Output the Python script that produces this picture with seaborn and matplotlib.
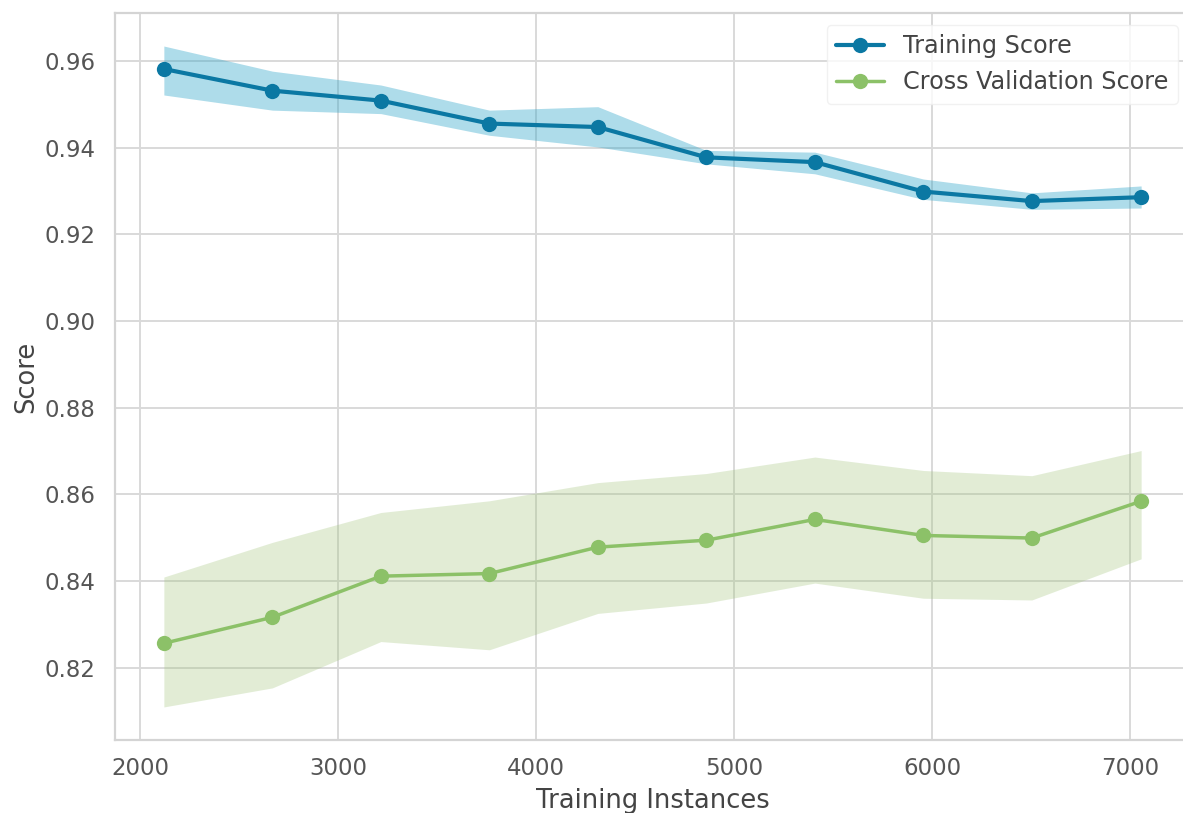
import matplotlib
matplotlib.use("Agg")
import matplotlib.pyplot as plt
import seaborn as sns
import pandas as pd

# learning curve values
train_sizes = [2120, 2668, 3216, 3764, 4312, 4860, 5408, 5956, 6504, 7056]
train_score = [0.9582, 0.9532, 0.9509, 0.9456, 0.9448, 0.9378, 0.9367, 0.9299, 0.9277, 0.9286]
train_hi = [0.9635, 0.9577, 0.9545, 0.9487, 0.9495, 0.9394, 0.9390, 0.9328, 0.9296, 0.9312]
train_lo = [0.9522, 0.9487, 0.9479, 0.9429, 0.9402, 0.9363, 0.9340, 0.9281, 0.9258, 0.9261]

cv_score = [0.8256, 0.8316, 0.8411, 0.8417, 0.8478, 0.8494, 0.8542, 0.8505, 0.8499, 0.8584]
cv_hi = [0.8409, 0.8489, 0.8558, 0.8585, 0.8627, 0.8648, 0.8686, 0.8655, 0.8643, 0.8701]
cv_lo = [0.8109, 0.8153, 0.8260, 0.8241, 0.8325, 0.8349, 0.8395, 0.8360, 0.8356, 0.8451]

df = pd.DataFrame({"size": train_sizes, "train": train_score, "cv": cv_score})

sns.set_style("whitegrid", {"grid.color": "#d9d9d9", "axes.edgecolor": "#d4d4d4"})
plt.rcParams["font.family"] = ["DejaVu Sans"]

fig = plt.figure(figsize=(11.83, 8.13), dpi=100)
ax = fig.add_axes([115 / 1183, 73 / 813, 1075 / 1183, 727 / 813])

blue = "#0b78a3"
green = "#8cc168"

ax.fill_between(train_sizes, train_lo, train_hi, color="#2aa3c9", alpha=0.38, linewidth=0)
ax.fill_between(train_sizes, cv_lo, cv_hi, color="#9fc377", alpha=0.3, linewidth=0)

sns.lineplot(data=df, x="size", y="train", ax=ax, color=blue, marker="o",
             markersize=11, markeredgewidth=0, linewidth=3, label="Training Score")
sns.lineplot(data=df, x="size", y="cv", ax=ax, color=green, marker="o",
             markersize=11, markeredgewidth=0, linewidth=2.5, label="Cross Validation Score")

ax.set_xlabel("Training Instances", fontsize=18.5, color="#444444", labelpad=6)
ax.set_ylabel("Score", fontsize=18.5, color="#444444", labelpad=4)
ax.tick_params(axis="both", labelsize=16.5, labelcolor="#555555", length=0)
ax.tick_params(axis="x", pad=12)
ax.tick_params(axis="y", pad=14)
ax.set_yticks([0.82, 0.84, 0.86, 0.88, 0.90, 0.92, 0.94, 0.96])
ax.set_yticklabels(["0.82", "0.84", "0.86", "0.88", "0.90", "0.92", "0.94", "0.96"])
ax.grid(True, linewidth=1.4)
for s in ax.spines.values():
    s.set_linewidth(1.6)
ax.spines["right"].set_visible(False)

leg = ax.legend(loc="upper right", fontsize=17.2, frameon=True)
leg.get_frame().set_edgecolor("#eeeeee")
for t in leg.get_texts():
    t.set_color("#444444")

fig.savefig("out.png", dpi=100)
